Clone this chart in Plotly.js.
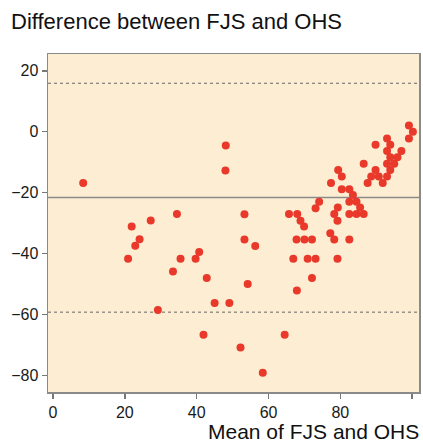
<!DOCTYPE html>
<html>
<head>
<meta charset="utf-8">
<script src="https://cdn.plot.ly/plotly-3.0.1.min.js"></script>
<style>html,body{margin:0;padding:0;background:#fff;}#chart{width:423px;height:444px;}</style>
</head>
<body>
<div id="chart"></div>
<script>
// Mean of FJS and OHS (x) and difference (y)
const meanScores = [8.4,20.9,21.9,22.9,24.1,27.2,29.2,33.4,34.5,35.5,39.7,40.7,41.9,42.8,45.0,48.1,48.0,49.1,52.2,53.3,53.3,54.2,56.3,58.4,64.5,65.7,66.9,67.8,67.9,68.0,68.9,69.9,70.0,70.9,72.1,72.1,73.1,73.1,74.1,77.2,77.4,78.3,78.3,79.2,79.2,79.3,79.4,80.4,80.4,82.5,82.5,82.5,82.5,83.5,84.5,84.5,85.5,86.5,86.5,87.6,88.6,89.8,89.8,90.7,91.8,93.0,93.9,93.0,95.0,95.9,93.9,93.0,97.0,93.9,93.0,99.1,100.2,99.1];
const differences = [-16.8,-41.7,-31.1,-37.4,-35.3,-29.1,-58.5,-45.9,-27.0,-41.7,-41.7,-39.5,-66.6,-48.0,-56.2,-4.5,-12.7,-56.2,-70.8,-27.1,-35.4,-50.0,-37.5,-79.1,-66.6,-27.0,-41.7,-35.4,-52.1,-27.0,-29.2,-31.1,-35.4,-41.7,-35.4,-48.0,-41.7,-25.1,-23.0,-33.3,-16.8,-35.4,-27.0,-29.2,-41.7,-24.9,-12.6,-14.7,-18.9,-18.9,-23.0,-27.0,-35.4,-20.8,-23.0,-27.0,-24.9,-27.0,-10.5,-16.8,-14.7,-12.6,-4.3,-14.7,-16.8,-14.7,-12.6,-10.5,-10.5,-8.4,-8.4,-6.3,-6.3,-4.3,-2.2,-2.2,0,2.0];
const meanDifference = -21.6;
const upperLimit = 15.9;
const lowerLimit = -59.2;
const xTicks = [0,20,40,60,80,100];
const yTicks = [-80,-60,-40,-20,0,20];

const xRange = [-1.4, 101.9];
const yRange = [-85.4, 25.5];

const traces = [
  {x: xRange, y: [meanDifference, meanDifference], mode: 'lines', line: {color: '#8a8a8a', width: 1.5}, hoverinfo: 'skip'},
  {x: xRange, y: [upperLimit, upperLimit], mode: 'lines', line: {color: '#666', width: 1, dash: 'dot'}, hoverinfo: 'skip'},
  {x: xRange, y: [lowerLimit, lowerLimit], mode: 'lines', line: {color: '#666', width: 1, dash: 'dot'}, hoverinfo: 'skip'},
  {x: meanScores, y: differences, mode: 'markers', marker: {color: '#e8392b', size: 8}}
];

const axisFont = {family: 'Liberation Sans, Arial, sans-serif', size: 16, color: '#1a1a1a'};
const layout = {
  width: 423, height: 444,
  margin: {l: 48, r: 4, t: 54, b: 52},
  paper_bgcolor: '#ffffff',
  plot_bgcolor: '#fdeed3',
  showlegend: false,
  font: {family: 'Liberation Sans, Arial, sans-serif', color: '#1a1a1a'},
  title: {text: 'Difference between FJS and OHS', font: {size: 22, color: '#111'}, xref: 'container', yref: 'container', x: 11/423, xanchor: 'left', y: 1 - 21/444, yanchor: 'middle'},
  xaxis: {range: xRange, tickvals: xTicks, ticks: 'outside', ticklen: 5, tickwidth: 1.5, tickcolor: '#777', showgrid: false, zeroline: false, showline: true, linecolor: '#8a8a8a', linewidth: 1.5, mirror: true, tickfont: axisFont},
  yaxis: {range: yRange, tickvals: yTicks, ticks: 'outside', ticklen: 5, tickwidth: 1.5, tickcolor: '#777', showgrid: false, zeroline: false, showline: true, linecolor: '#8a8a8a', linewidth: 1.5, mirror: true, tickfont: axisFont},
  annotations: [{text: 'Mean of FJS and OHS', xref: 'paper', yref: 'paper', x: 1.005, xanchor: 'right', y: -0.118, yanchor: 'middle', showarrow: false, font: {size: 21, color: '#111'}}]
};
Plotly.newPlot('chart', traces, layout, {displayModeBar: false, staticPlot: true});
</script>
</body>
</html>
